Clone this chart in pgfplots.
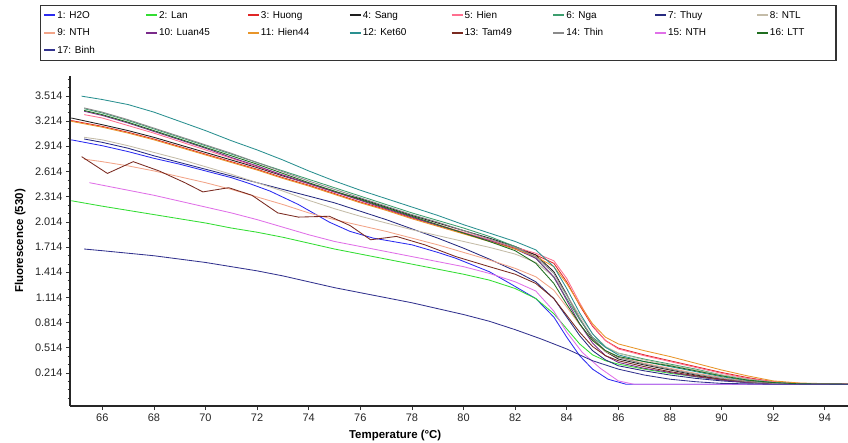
\documentclass[border=0pt]{standalone}
\usepackage{pgfplots}
\pgfplotsset{compat=1.18}
\usepackage{fontspec}
\setmainfont{Liberation Sans}
\definecolor{cH2O}{RGB}{43,43,240}
\definecolor{cLan}{RGB}{51,221,51}
\definecolor{cHuong}{RGB}{224,38,38}
\definecolor{cSang}{RGB}{30,30,30}
\definecolor{cHien}{RGB}{255,111,143}
\definecolor{cNga}{RGB}{60,158,110}
\definecolor{cThuy}{RGB}{38,42,128}
\definecolor{cNTL}{RGB}{196,188,168}
\definecolor{cNTHa}{RGB}{242,164,136}
\definecolor{cLuan}{RGB}{122,42,138}
\definecolor{cHienB}{RGB}{232,149,42}
\definecolor{cKet}{RGB}{42,144,144}
\definecolor{cTam}{RGB}{122,42,32}
\definecolor{cThin}{RGB}{138,138,138}
\definecolor{cNTHb}{RGB}{224,112,232}
\definecolor{cLTT}{RGB}{31,110,31}
\definecolor{cBinh}{RGB}{51,51,143}
\begin{document}
\begin{tikzpicture}
\useasboundingbox (0,0) rectangle (848bp,443bp);
\begin{axis}[
  at={(70bp,37bp)}, anchor=south west,
  scale only axis, width=778bp, height=330bp,
  xmin=64.75, xmax=94.9, ymin=-0.179, ymax=3.75,
  axis x line*=bottom, axis y line*=left,
  axis line style={black!85, line width=1.1bp},
  xtick={66,68,...,94},
  ytick={0.214,0.514,0.814,1.114,1.414,1.714,2.014,2.314,2.614,2.914,3.214,3.514},
  yticklabels={0.214,0.514,0.814,1.114,1.414,1.714,2.014,2.314,2.614,2.914,3.214,3.514},
  minor ytick={-0.086,0.014,...,3.72},
  tick align=outside, major tick length=4bp, minor tick length=2.5bp,
  tick style={black!80, line width=0.6bp},
  /pgf/number format/assume math mode=true,
  tick label style={font=\fontsize{11}{13}\selectfont, text=black!85},
  xlabel={\textbf{Temperature (°C)}},
  ylabel={\textbf{Fluorescence (530)}},
  xlabel style={at={(axis description cs:0.418,-0.088)}, anchor=center, font=\fontsize{11.5}{13}\selectfont},
  ylabel style={at={(axis description cs:-0.064,0.5)}, anchor=center, font=\fontsize{11.5}{13}\selectfont},
  every axis plot/.append style={line width=0.85bp},
  legend columns=8,
  legend cell align=left,
  legend image code/.code={\draw[#1,solid,line width=1.8bp] (0bp,0.5bp) -- (11bp,0.5bp);},
  legend style={at={(axis description cs:-0.0386,1.2152)}, anchor=north west,
    draw=black!80, line width=1.2bp, font=\fontsize{10}{12}\selectfont,
    row sep=6bp, column sep=0bp, inner xsep=3bp, inner ysep=4.4bp,
    nodes={inner sep=1bp, text height=7.5bp, text depth=2bp}},
]
\addplot[cH2O] coordinates {(64.8,2.99)(66,2.92)(67,2.85)(68,2.77)(69,2.70)(70,2.62)(71,2.54)(71.7,2.47)(72.5,2.38)(73.6,2.22)(74.8,2.01)(75.6,1.90)(76.5,1.82)(78,1.74)(79,1.65)(79.7,1.58)(81,1.42)(81.8,1.28)(82.8,1.10)(83.5,0.88)(84,0.64)(84.5,0.42)(85,0.26)(85.6,0.14)(86.3,0.08)(95,0.08)};
\addlegendentry{\makebox[87bp][l]{1: H2O}}
\addplot[cLan] coordinates {(64.8,2.265)(66,2.20)(67,2.15)(68,2.10)(69,2.05)(70,2.00)(71,1.94)(72,1.89)(73,1.83)(74,1.76)(75,1.69)(76,1.63)(77,1.57)(78,1.51)(79,1.45)(80,1.39)(81,1.32)(82,1.22)(82.8,1.10)(83.5,0.92)(84,0.74)(84.5,0.56)(85,0.43)(85.5,0.36)(86,0.32)(87,0.26)(88,0.21)(89,0.17)(90,0.13)(91,0.10)(92,0.09)(95,0.08)};
\addlegendentry{\makebox[87bp][l]{2: Lan}}
\addplot[cHuong] coordinates {(64.8,3.22)(66,3.15)(67,3.08)(68,3.00)(69,2.91)(70,2.82)(71,2.73)(72,2.64)(73,2.54)(74,2.45)(75,2.35)(76,2.25)(77,2.16)(78,2.06)(79,1.97)(80,1.88)(81,1.79)(82,1.70)(82.8,1.62)(83.5,1.52)(84,1.30)(84.5,1.02)(85,0.77)(85.5,0.60)(86,0.51)(87,0.43)(88,0.36)(89,0.29)(90,0.22)(91,0.16)(92,0.11)(93,0.09)(95,0.08)};
\addlegendentry{\makebox[87bp][l]{3: Huong}}
\addplot[cSang] coordinates {(64.8,3.25)(66,3.17)(67,3.10)(68,3.02)(69,2.93)(70,2.84)(71,2.75)(72,2.66)(73,2.56)(74,2.47)(75,2.37)(76,2.29)(77,2.19)(78,2.09)(79,2.00)(80,1.91)(81,1.82)(82,1.72)(82.8,1.62)(83.5,1.42)(84,1.15)(84.5,0.86)(85,0.62)(85.5,0.47)(86,0.38)(87,0.31)(88,0.25)(89,0.19)(90,0.14)(91,0.11)(92,0.09)(95,0.08)};
\addlegendentry{\makebox[87bp][l]{4: Sang}}
\addplot[cHien] coordinates {(65.3,3.29)(66,3.25)(67,3.16)(68,3.07)(69,2.97)(70,2.87)(71,2.77)(72,2.67)(73,2.57)(74,2.47)(75,2.37)(76,2.27)(77,2.17)(78,2.07)(79,1.98)(80,1.89)(81,1.80)(82,1.71)(82.8,1.64)(83.5,1.55)(84,1.34)(84.5,1.05)(85,0.78)(85.5,0.60)(86,0.50)(87,0.42)(88,0.35)(89,0.28)(90,0.21)(91,0.15)(92,0.11)(93,0.09)(95,0.08)};
\addlegendentry{\makebox[87bp][l]{5: Hien}}
\addplot[cNga] coordinates {(65.3,3.36)(66,3.31)(67,3.22)(68,3.12)(69,3.02)(70,2.92)(71,2.82)(72,2.72)(73,2.62)(74,2.52)(75,2.42)(76,2.32)(77,2.22)(78,2.12)(79,2.03)(80,1.94)(81,1.84)(82,1.72)(82.8,1.58)(83.5,1.35)(84,1.10)(84.5,0.85)(85,0.64)(85.5,0.52)(86,0.45)(87,0.38)(88,0.32)(89,0.26)(90,0.19)(91,0.14)(92,0.10)(93,0.085)(95,0.08)};
\addlegendentry{\makebox[87bp][l]{6: Nga}}
\addplot[cThuy] coordinates {(65.3,3.00)(66,2.96)(67,2.89)(68,2.80)(69,2.72)(70,2.64)(71,2.56)(72,2.48)(73,2.40)(74,2.32)(75,2.24)(76,2.14)(77,2.04)(78,1.93)(79,1.82)(80,1.70)(81,1.57)(82,1.43)(82.8,1.30)(83.5,1.10)(84,0.88)(84.5,0.66)(85,0.48)(85.5,0.37)(86,0.30)(87,0.24)(88,0.19)(89,0.15)(90,0.12)(91,0.10)(92,0.09)(95,0.08)};
\addlegendentry{\makebox[87bp][l]{7: Thuy}}
\addplot[cNTL] coordinates {(65.3,3.02)(66,2.99)(67,2.92)(68,2.84)(69,2.76)(70,2.67)(71,2.58)(72,2.48)(73,2.38)(74,2.27)(75,2.17)(76,2.08)(77,2.00)(78,1.92)(79,1.85)(80,1.78)(81,1.71)(82,1.63)(82.8,1.53)(83.5,1.36)(84,1.14)(84.5,0.90)(85,0.68)(85.5,0.53)(86,0.45)(87,0.37)(88,0.31)(89,0.25)(90,0.19)(91,0.14)(92,0.10)(93,0.085)(95,0.08)};
\addlegendentry{\makebox[62bp][l]{8: NTL}}
\addplot[cNTHa] coordinates {(65.3,2.76)(66,2.73)(67,2.68)(68,2.62)(69,2.55)(70,2.48)(71,2.40)(72,2.31)(73,2.22)(74,2.12)(75,2.04)(76,1.97)(77,1.90)(78,1.82)(79,1.74)(80,1.65)(81,1.56)(82,1.46)(82.8,1.36)(83.5,1.20)(84,1.00)(84.5,0.79)(85,0.60)(85.5,0.47)(86,0.40)(87,0.33)(88,0.27)(89,0.21)(90,0.16)(91,0.12)(92,0.095)(95,0.08)};
\addlegendentry{\makebox[87bp][l]{9: NTH}}
\addplot[cLuan] coordinates {(65.3,3.33)(66,3.28)(67,3.19)(68,3.09)(69,2.99)(70,2.89)(71,2.78)(72,2.68)(73,2.57)(74,2.47)(75,2.37)(76,2.27)(77,2.17)(78,2.07)(79,1.97)(80,1.88)(81,1.79)(82,1.69)(82.8,1.58)(83.5,1.36)(84,1.08)(84.5,0.80)(85,0.57)(85.5,0.42)(86,0.34)(87,0.27)(88,0.22)(89,0.17)(90,0.13)(91,0.10)(92,0.085)(95,0.08)};
\addlegendentry{\makebox[87bp][l]{10: Luan45}}
\addplot[cHienB] coordinates {(64.8,3.21)(66,3.14)(67,3.07)(68,2.99)(69,2.90)(70,2.81)(71,2.72)(72,2.63)(73,2.53)(74,2.44)(75,2.34)(76,2.24)(77,2.15)(78,2.05)(79,1.96)(80,1.87)(81,1.78)(82,1.69)(82.8,1.60)(83.5,1.48)(84,1.28)(84.5,1.03)(85,0.80)(85.5,0.64)(86,0.56)(87,0.48)(88,0.41)(89,0.33)(90,0.25)(91,0.18)(92,0.12)(93,0.095)(95,0.08)};
\addlegendentry{\makebox[87bp][l]{11: Hien44}}
\addplot[cKet] coordinates {(65.2,3.51)(66,3.47)(67,3.41)(68,3.32)(69,3.21)(70,3.10)(71,2.98)(72,2.87)(73,2.75)(74,2.62)(75,2.50)(76,2.39)(77,2.29)(78,2.19)(79,2.09)(80,1.98)(81,1.88)(82,1.78)(82.8,1.68)(83.5,1.48)(84,1.22)(84.5,0.93)(85,0.68)(85.5,0.52)(86,0.43)(87,0.35)(88,0.29)(89,0.23)(90,0.17)(91,0.125)(92,0.10)(93,0.085)(95,0.08)};
\addlegendentry{\makebox[87bp][l]{12: Ket60}}
\addplot[cTam] coordinates {(65.2,2.79)(66.2,2.59)(67.2,2.73)(68.2,2.62)(69.2,2.48)(69.9,2.37)(70.9,2.42)(71.8,2.33)(72.8,2.12)(73.6,2.07)(74.8,2.08)(75.6,1.97)(76.4,1.80)(77.4,1.84)(78.5,1.74)(79.7,1.60)(81,1.48)(82,1.39)(82.8,1.28)(83.5,1.10)(84,0.90)(84.5,0.70)(85,0.53)(85.5,0.42)(86,0.36)(87,0.29)(88,0.23)(89,0.18)(90,0.14)(91,0.11)(92,0.09)(95,0.08)};
\addlegendentry{\makebox[87bp][l]{13: Tam49}}
\addplot[cThin] coordinates {(65.3,3.37)(66,3.32)(67,3.23)(68,3.13)(69,3.03)(70,2.93)(71,2.83)(72,2.72)(73,2.61)(74,2.50)(75,2.40)(76,2.30)(77,2.20)(78,2.10)(79,2.01)(80,1.91)(81,1.81)(82,1.71)(82.8,1.60)(83.5,1.40)(84,1.14)(84.5,0.87)(85,0.63)(85.5,0.48)(86,0.40)(87,0.32)(88,0.26)(89,0.20)(90,0.15)(91,0.11)(92,0.09)(95,0.08)};
\addlegendentry{\makebox[87bp][l]{14: Thin}}
\addplot[cNTHb] coordinates {(65.5,2.48)(66,2.45)(67,2.39)(68,2.33)(69,2.26)(70,2.19)(71,2.12)(72,2.04)(73,1.95)(74,1.86)(75,1.78)(76,1.72)(77,1.66)(78,1.60)(79,1.54)(80,1.48)(81,1.40)(82,1.30)(82.8,1.19)(83.5,0.95)(84,0.70)(84.6,0.46)(85.3,0.27)(86,0.12)(86.6,0.08)(95,0.08)};
\addlegendentry{\makebox[87bp][l]{15: NTH}}
\addplot[cLTT] coordinates {(65.3,3.34)(66,3.29)(67,3.20)(68,3.10)(69,3.00)(70,2.90)(71,2.80)(72,2.70)(73,2.59)(74,2.48)(75,2.38)(76,2.28)(77,2.18)(78,2.08)(79,1.98)(80,1.88)(81,1.78)(82,1.67)(82.8,1.52)(83.5,1.28)(84,1.03)(84.5,0.80)(85,0.60)(85.5,0.48)(86,0.41)(87,0.35)(88,0.30)(89,0.24)(90,0.18)(91,0.13)(92,0.10)(93,0.085)(95,0.08)};
\addlegendentry{\makebox[62bp][l]{16: LTT}}
\addplot[cBinh] coordinates {(65.3,1.69)(66,1.67)(67,1.64)(68,1.61)(69,1.57)(70,1.53)(71,1.48)(72,1.43)(73,1.37)(74,1.30)(75,1.23)(76,1.17)(77,1.11)(78,1.05)(79,0.98)(80,0.91)(81,0.83)(82,0.73)(83,0.62)(84,0.50)(85,0.36)(86,0.26)(87,0.19)(88,0.14)(89,0.11)(90,0.09)(92,0.08)(95,0.08)};
\addlegendentry{\makebox[87bp][l]{17: Binh}}
\end{axis}
\end{tikzpicture}
\end{document}
